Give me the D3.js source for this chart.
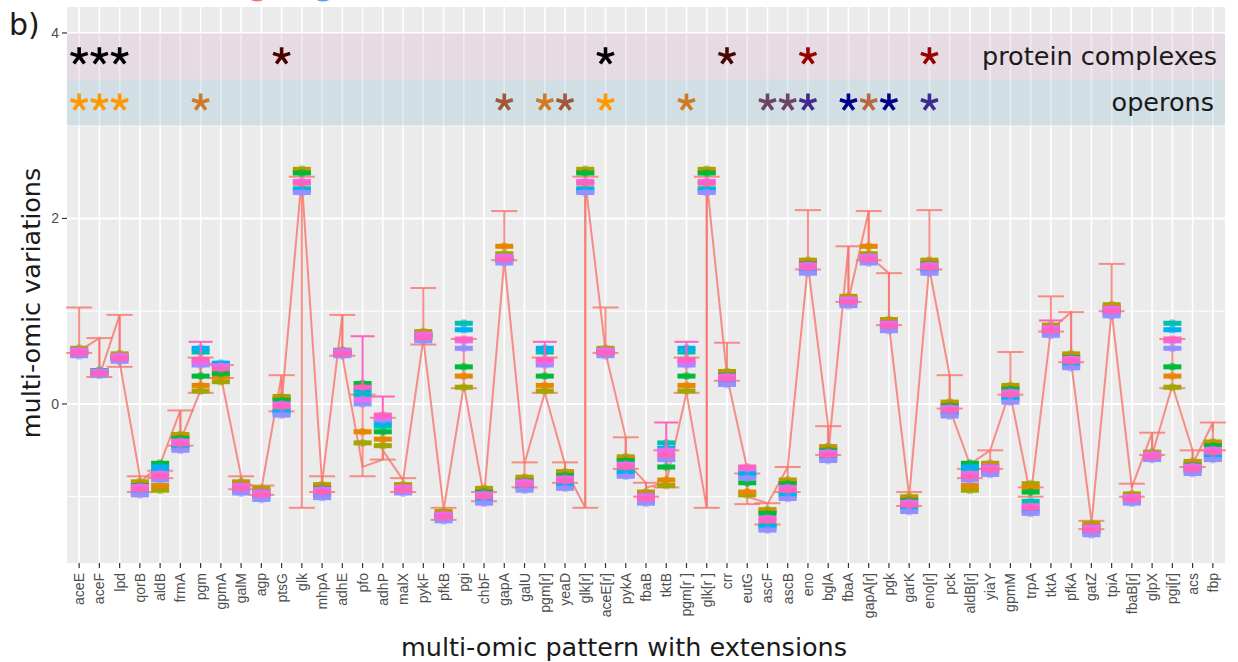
<!DOCTYPE html>
<meta charset="utf-8">
<style>
body { margin: 0; background: #fff; }
text { font-family: "DejaVu Sans", sans-serif; }
.tick text { font-family: "Liberation Sans", Arial, sans-serif; }
</style>
<svg width="1238" height="662"></svg>
<script src="https://d3js.org/d3.v7.min.js"></script>
<script>

var genes = ["aceE","aceF","lpd","qorB","aldB","frmA","pgm","gpmA","galM","agp","ptsG","glk","mhpA","adhE","pfo","adhP","malX","pykF","pfkB","pgi",
  "chbF","gapA","galU","pgm[r]","yeaD","glk[r]","aceE[r]","pykA","fbaB","tktB","pgm[r ]","glk[r ]","crr","eutG","ascF","ascB","eno","bglA","fbaA","gapA[r]",
  "pgk","garK","eno[r]","pck","aldB[r]","yiaY","gpmM","trpA","tktA","pfkA","gatZ","tpiA","fbaB[r]","glpX","pgi[r]","acs","fbp"];

// salmon series: path through entry/exit value of each gene, and its error bars
var lineIn  = [.57,.71,.96,-.78,-.65,-.07,.15,.42,-.78,-.90,.31,2.45,-.85,.96,-.68,-.60,-.82,.70,-1.12,.20,
  -1.0,1.55,-.64,.12,-.65,-1.12,.57,-.36,-.85,-.85,.12,-1.12,.30,-.70,-1.07,-.68,1.50,-.24,1.70,2.08,
  1.41,-1.0,1.50,.31,-.65,-.50,.15,-1.0,.80,.99,-1.26,1.0,-.90,-.31,.20,-.50,-.20];
var lineOut = [.57,.30,.45,-.85,-.65,-.40,.45,.30,-.85,-.92,.0,2.40,-.85,.52,-.68,-.50,-.82,.70,-1.15,.20,
  -1.0,1.55,-.64,.12,-.70,2.40,.55,-.62,-.90,-.85,.12,2.40,.30,-1.0,-1.08,-.68,1.50,-.55,1.12,1.60,
  .85,-1.0,1.45,-.05,-.65,-.50,.10,-1.0,.80,.45,-1.30,1.0,-.90,-.55,.20,-.65,-.30];
var errHi = [1.04,.71,.96,-.78,-.72,-.07,.50,.42,-.78,-.88,.31,2.45,-.78,.96,.10,-.15,-.80,1.25,-1.12,.70,
  -.95,2.08,-.63,.50,-.63,2.45,1.04,-.36,-.85,-.50,.50,2.45,.66,-.75,-1.07,-.68,2.09,-.24,1.70,2.08,
  1.41,-.95,2.09,.31,-.70,-.50,.56,-.90,1.16,.99,-1.26,1.51,-.86,-.31,.70,-.50,-.20];
var errLo = [.55,.29,.40,-.95,-.80,-.45,.12,.28,-.92,-.98,-.08,-1.12,-.95,.52,-.78,-.60,-.95,.64,-1.25,.17,
  -1.05,1.55,-.90,.12,-.85,-1.12,.55,-.70,-1.0,-.90,.12,-1.12,.25,-1.08,-1.30,-.95,1.45,-.55,1.10,1.55,
  .85,-1.10,1.45,-.05,-.80,-.70,.10,-1.0,.78,.45,-1.35,1.0,-1.0,-.55,.17,-.68,-.50];

// the other omic layers, one value per gene
var olive   = [.60,.36,.54,-.84,-.93,-.33,.14,.24,-.84,-.91,.08,2.53,-.87,.58,-.42,-.45,-.87,.78,-1.16,.18,
  -.91,1.62,-.79,.14,-.73,2.53,.60,-.57,-.95,-.88,.14,2.53,.35,-.98,-1.14,-.82,1.55,-.46,1.16,1.62,
  .91,-1.0,1.55,.02,-.93,-.64,.20,-.86,.85,.54,-1.29,1.07,-.97,-.52,.18,-.62,-.41];
var orange  = [.58,.34,.52,-.86,-.88,-.35,.20,.30,-.86,-.93,.06,2.50,-.89,.56,-.30,-.38,-.89,.76,-1.18,.30,
  -.93,1.70,-.81,.20,-.75,2.50,.58,-.59,-.97,-.82,.20,2.50,.33,-.95,-1.16,-.84,1.53,-.48,1.14,1.70,
  .89,-1.02,1.53,.00,-.88,-.66,.18,-.90,.83,.52,-1.31,1.05,-.99,-.54,.30,-.64,-.43];
var green   = [.56,.32,.50,-.88,-.64,-.37,.30,.33,-.88,-.95,.04,2.49,-.91,.54,.22,-.30,-.91,.74,-1.20,.40,
  -.95,1.58,-.83,.30,-.77,2.49,.56,-.61,-.99,-.68,.30,2.49,.31,-.85,-1.18,-.86,1.51,-.50,1.12,1.58,
  .87,-1.04,1.51,-.02,-.64,-.68,.16,-.95,.81,.50,-1.33,1.03,-1.01,-.56,.40,-.66,-.45];
var teal    = [.57,.36,.51,-.93,-.72,-.45,.56,.42,-.91,-.98,-.07,2.32,-.96,.57,.10,-.24,-.91,.73,-1.21,.87,
  -1.02,1.57,-.88,.56,-.86,2.32,.57,-.73,-1.02,-.42,.56,2.32,.26,-.78,-1.31,-.97,1.46,-.56,1.11,1.57,
  .84,-1.11,1.46,-.08,-.72,-.71,.07,-1.05,.79,.44,-1.36,1.00,-1.02,-.55,.87,-.70,-.55];
var blue    = [.55,.34,.49,-.95,-.68,-.47,.60,.44,-.93,-1.00,-.09,2.30,-.98,.55,.15,-.20,-.93,.71,-1.23,.80,
  -1.04,1.55,-.90,.60,-.88,2.30,.55,-.75,-1.04,-.48,.60,2.30,.24,-.74,-1.33,-.99,1.44,-.58,1.09,1.55,
  .82,-1.13,1.44,-.10,-.68,-.73,.05,-1.15,.77,.42,-1.38,.98,-1.04,-.57,.80,-.72,-.57];
var purple  = [.52,.31,.46,-.98,-.82,-.50,.42,.40,-.96,-1.03,-.12,2.28,-1.01,.52,.00,-.17,-.96,.68,-1.26,.60,
  -1.07,1.52,-.93,.42,-.91,2.28,.52,-.78,-1.07,-.60,.42,2.28,.21,-.80,-1.36,-1.02,1.41,-.61,1.06,1.52,
  .79,-1.16,1.41,-.13,-.82,-.76,.02,-1.18,.74,.39,-1.41,.95,-1.07,-.60,.60,-.75,-.60];
var magenta = [.58,.35,.52,-.89,-.75,-.40,.45,.41,-.88,-.95,.00,2.40,-.92,.57,.05,-.15,-.90,.75,-1.19,.68,
  -.97,1.59,-.84,.45,-.80,2.40,.58,-.65,-.99,-.50,.45,2.40,.30,-.70,-1.23,-.90,1.50,-.52,1.13,1.59,
  .87,-1.06,1.50,-.04,-.75,-.68,.13,-1.10,.82,.49,-1.33,1.03,-1.00,-.54,.68,-.67,-.49];
var pink    = [.55,.33,.49,-.92,-.78,-.43,.48,.38,-.91,-.98,-.03,2.38,-.95,.54,.18,-.12,-.93,.72,-1.22,.70,
  -1.00,1.56,-.87,.48,-.83,2.38,.55,-.68,-1.02,-.55,.48,2.38,.27,-.68,-1.26,-.93,1.47,-.55,1.10,1.56,
  .84,-1.09,1.47,-.07,-.78,-.71,.10,-1.12,.79,.46,-1.36,1.00,-1.03,-.57,.70,-.70,-.52];
// upper error bar of the pink layer, where it sticks out
var pinkErrHi = {"pgm": .67, "pfo": .73, "adhP": .08, "pgm[r]": .67, "tktB": -.20, "pgm[r ]": .67, "tktA": .90};

var layerColors = ["#A3A500","#E58700","#00BA38","#00C0AF","#00B0F6","#9590FF","#E76BF3","#FF62BC"];
var layerVals   = [olive, orange, green, teal, blue, purple, magenta, pink];

// annotation rows
var complexGenes  = ["aceE","aceF","lpd","ptsG","aceE[r]","crr","eno","eno[r]"];
var complexColors = ["#000000","#000000","#000000","#4a0000","#000000","#4a0505","#9b0000","#9b0000"];
var operonGenes  = ["aceE","aceF","lpd","pgm","gapA","pgm[r]","yeaD","aceE[r]","pgm[r ]","ascF","ascB","eno","fbaA","gapA[r]","pgk","eno[r]"];
var operonColors = ["#ff9900","#ff9900","#ff9900","#cd7b26","#a0583a","#cd7b26","#a0583a","#ff9900","#cd7b26","#6e4466","#6e4466","#3f2b8e","#00008b","#b8693f","#00008b","#3f2b8e"];

var yTicks = [0, 2, 4];

var svg = d3.select("svg"),
    pL = 67, pR = 1225, pT = 7, pB = 563;

var x = d3.scalePoint().domain(genes).range([pL, pR]).padding(0.6);
var y = d3.scaleLinear().domain([-1.715, 4.28]).range([pB, pT]);

// partly hidden legend keys above the panel
svg.append("circle").attr("cx", 257).attr("cy", -12).attr("r", 12)
    .attr("fill", "#fff").attr("stroke", "#F8766D").attr("stroke-width", 3);
svg.append("circle").attr("cx", 323).attr("cy", -12).attr("r", 12)
    .attr("fill", "#fff").attr("stroke", "#619CFF").attr("stroke-width", 3);

svg.append("rect")
    .attr("x", pL).attr("y", pT)
    .attr("width", pR - pL).attr("height", pB - pT)
    .attr("fill", "#EBEBEB");

var grid = svg.append("g");
grid.selectAll(".minor")
  .data([-1, 1, 3])
  .enter().append("line")
    .attr("x1", pL).attr("x2", pR)
    .attr("y1", function(d) { return y(d); }).attr("y2", function(d) { return y(d); })
    .attr("stroke", "#fff").attr("stroke-width", 1);
grid.selectAll(".major")
  .data(yTicks)
  .enter().append("line")
    .attr("x1", pL).attr("x2", pR)
    .attr("y1", function(d) { return y(d); }).attr("y2", function(d) { return y(d); })
    .attr("stroke", "#fff").attr("stroke-width", 2);
grid.selectAll(".vert")
  .data(genes)
  .enter().append("line")
    .attr("x1", function(d) { return x(d); }).attr("x2", function(d) { return x(d); })
    .attr("y1", pT).attr("y2", pB)
    .attr("stroke", "#fff").attr("stroke-width", 1.6);

// annotation bands
svg.append("rect")
    .attr("x", pL).attr("width", pR - pL)
    .attr("y", y(4)).attr("height", y(3.5) - y(4))
    .attr("fill", "rgb(222,188,212)").attr("fill-opacity", 0.32);
svg.append("rect")
    .attr("x", pL).attr("width", pR - pL)
    .attr("y", y(3.5)).attr("height", y(3) - y(3.5))
    .attr("fill", "rgb(155,195,215)").attr("fill-opacity", 0.32);

svg.append("text")
    .attr("x", 1217).attr("y", y(3.75)).attr("dy", "0.35em")
    .attr("text-anchor", "end").attr("font-size", 25.5).attr("fill", "#1a1a1a")
    .text("protein complexes");
svg.append("text")
    .attr("x", 1214).attr("y", y(3.25)).attr("dy", "0.35em")
    .attr("text-anchor", "end").attr("font-size", 25.5).attr("fill", "#1a1a1a")
    .text("operons");

function asterisk(r) {
  var p = "";
  for (var k = 0; k < 5; k++) {
    var a = -Math.PI / 2 + k * 2 * Math.PI / 5;
    p += "M0,0L" + (r * Math.cos(a)).toFixed(2) + "," + (r * Math.sin(a)).toFixed(2);
  }
  return p;
}

function stars(list, colors, level) {
  svg.append("g").selectAll("path")
    .data(list)
    .enter().append("path")
      .attr("transform", function(d) { return "translate(" + x(d) + "," + y(level) + ")"; })
      .attr("d", asterisk(9))
      .attr("fill", "none")
      .attr("stroke-width", 3.6)
      .attr("stroke", function(d, i) { return colors[i]; });
}
stars(complexGenes, complexColors, 3.75);
stars(operonGenes, operonColors, 3.25);

// salmon line and error bars
var path = [];
genes.forEach(function(g, i) {
  path.push([x(g), y(lineIn[i])]);
  path.push([x(g), y(lineOut[i])]);
});
svg.append("path")
    .attr("d", d3.line()(path))
    .attr("fill", "none")
    .attr("stroke", "#F8766D").attr("stroke-opacity", 0.8)
    .attr("stroke-width", 2);

var eb = svg.append("g").attr("stroke", "#F8766D").attr("stroke-opacity", 0.8).attr("stroke-width", 2);
genes.forEach(function(g, i) {
  var cx = x(g);
  eb.append("line").attr("x1", cx).attr("x2", cx).attr("y1", y(errLo[i])).attr("y2", y(errHi[i]));
  eb.append("line").attr("x1", cx - 13).attr("x2", cx + 13).attr("y1", y(errLo[i])).attr("y2", y(errLo[i]));
  eb.append("line").attr("x1", cx - 13).attr("x2", cx + 13).attr("y1", y(errHi[i])).attr("y2", y(errHi[i]));
});

// the omic layers
var layers = svg.append("g");
layerVals.forEach(function(vals, s) {
  var g = layers.append("g").attr("fill", layerColors[s]);
  g.selectAll("circle")
    .data(vals)
    .enter().append("circle")
      .attr("cx", function(d, i) { return x(genes[i]); })
      .attr("cy", function(d) { return y(d); })
      .attr("r", 4)
      .attr("fill-opacity", 0.55);
  g.selectAll("rect")
    .data(vals)
    .enter().append("rect")
      .attr("x", function(d, i) { return x(genes[i]) - 9; })
      .attr("y", function(d) { return y(d) - 2.5; })
      .attr("width", 18).attr("height", 5);
});

var pe = svg.append("g").attr("stroke", "#FF62BC").attr("stroke-width", 2);
Object.keys(pinkErrHi).forEach(function(g) {
  var cx = x(g), v = pink[genes.indexOf(g)];
  pe.append("line").attr("x1", cx).attr("x2", cx).attr("y1", y(v)).attr("y2", y(pinkErrHi[g]));
  pe.append("line").attr("x1", cx - 12).attr("x2", cx + 12).attr("y1", y(pinkErrHi[g])).attr("y2", y(pinkErrHi[g]));
});

// axes
var yAxis = svg.append("g").attr("class", "tick");
yAxis.selectAll("line")
  .data(yTicks)
  .enter().append("line")
    .attr("x1", pL - 5).attr("x2", pL)
    .attr("y1", function(d) { return y(d); }).attr("y2", function(d) { return y(d); })
    .attr("stroke", "#333").attr("stroke-width", 1.2);
yAxis.selectAll("text")
  .data(yTicks)
  .enter().append("text")
    .attr("x", pL - 8).attr("y", function(d) { return y(d); })
    .attr("dy", "0.35em").attr("text-anchor", "end")
    .attr("font-size", 14).attr("fill", "#4d4d4d")
    .text(function(d) { return d; });

var xAxis = svg.append("g").attr("class", "tick");
xAxis.selectAll("line")
  .data(genes)
  .enter().append("line")
    .attr("x1", function(d) { return x(d); }).attr("x2", function(d) { return x(d); })
    .attr("y1", pB).attr("y2", pB + 5)
    .attr("stroke", "#333").attr("stroke-width", 1.2);
xAxis.selectAll("text")
  .data(genes)
  .enter().append("text")
    .attr("transform", function(d) { return "translate(" + (x(d) + 5) + "," + (pB + 10) + ") rotate(-90)"; })
    .attr("text-anchor", "end")
    .attr("font-size", 14).attr("fill", "#4d4d4d")
    .text(function(d) { return d; });

svg.append("text")
    .attr("x", 624).attr("y", 656)
    .attr("text-anchor", "middle").attr("font-size", 25.5).attr("fill", "#1a1a1a")
    .text("multi-omic pattern with extensions");
svg.append("text")
    .attr("transform", "translate(40,303) rotate(-90)")
    .attr("text-anchor", "middle").attr("font-size", 25.5).attr("fill", "#1a1a1a")
    .text("multi-omic variations");

svg.append("text")
    .attr("x", 9).attr("y", 35)
    .attr("font-size", 30).attr("fill", "#1a1a1a")
    .text("b)");

</script>
